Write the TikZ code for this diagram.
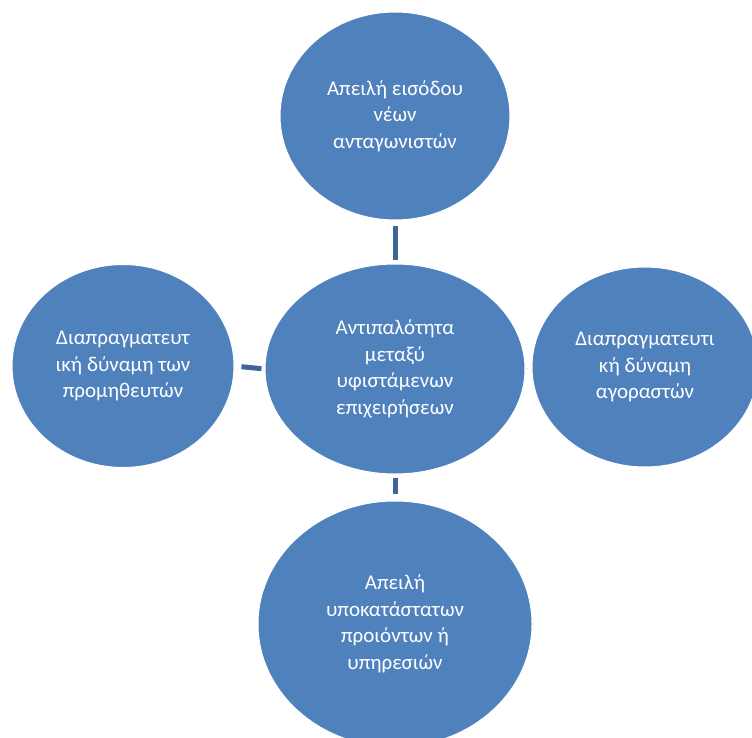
\documentclass[tikz,border=0pt]{standalone}
\usepackage{fontspec}
\setmainfont{Carlito}
\usetikzlibrary{shapes.geometric}
\definecolor{fillblue}{HTML}{4F81BD}
\definecolor{linkblue}{HTML}{3D6699}
\begin{document}
\begin{tikzpicture}[x=1pt,y=-1pt,
  bubble/.style={ellipse, fill=fillblue, draw=white, line width=1pt, inner sep=0pt,
    text=white, align=center, font=\fontsize{21}{26.5}\selectfont},
  link/.style={draw=linkblue, line width=5pt}]
\useasboundingbox (0,0) rectangle (752,738);
\node[bubble, minimum width=230pt, minimum height=208pt] (top) at (395,116)
  {Απειλή εισόδου\\νέων\\ανταγωνιστών};
\node[bubble, minimum width=260pt, minimum height=210pt] (mid) at (395,369)
  {Αντιπαλότητα\\μεταξύ\\υφιστάμενων\\επιχειρήσεων};
\node[bubble, minimum width=222pt, minimum height=203pt] (left) at (123,366)
  {Διαπραγματευτ\\ική δύναμη των\\προμηθευτών};
\node[bubble, minimum width=226pt, minimum height=200pt] (right) at (645,367)
  {Διαπραγματευτι\\κή δύναμη\\αγοραστών};
\node[bubble, minimum width=274pt, minimum height=246pt] (bot) at (395,624)
  {Απειλή\\υποκατάστατων\\προιόντων ή\\υπηρεσιών};
\draw[link, shorten <=5pt, shorten >=4pt] (top.south) -- (mid.north);
\draw[link, shorten <=7pt, shorten >=3pt] (left.east) -- (mid.west);
\draw[link, shorten <=3pt, shorten >=7pt] (mid.south) -- (bot.north);
\draw[draw=linkblue!40, line width=1pt, shorten <=2pt, shorten >=5pt] (mid.east) -- (right.west);
\end{tikzpicture}
\end{document}
